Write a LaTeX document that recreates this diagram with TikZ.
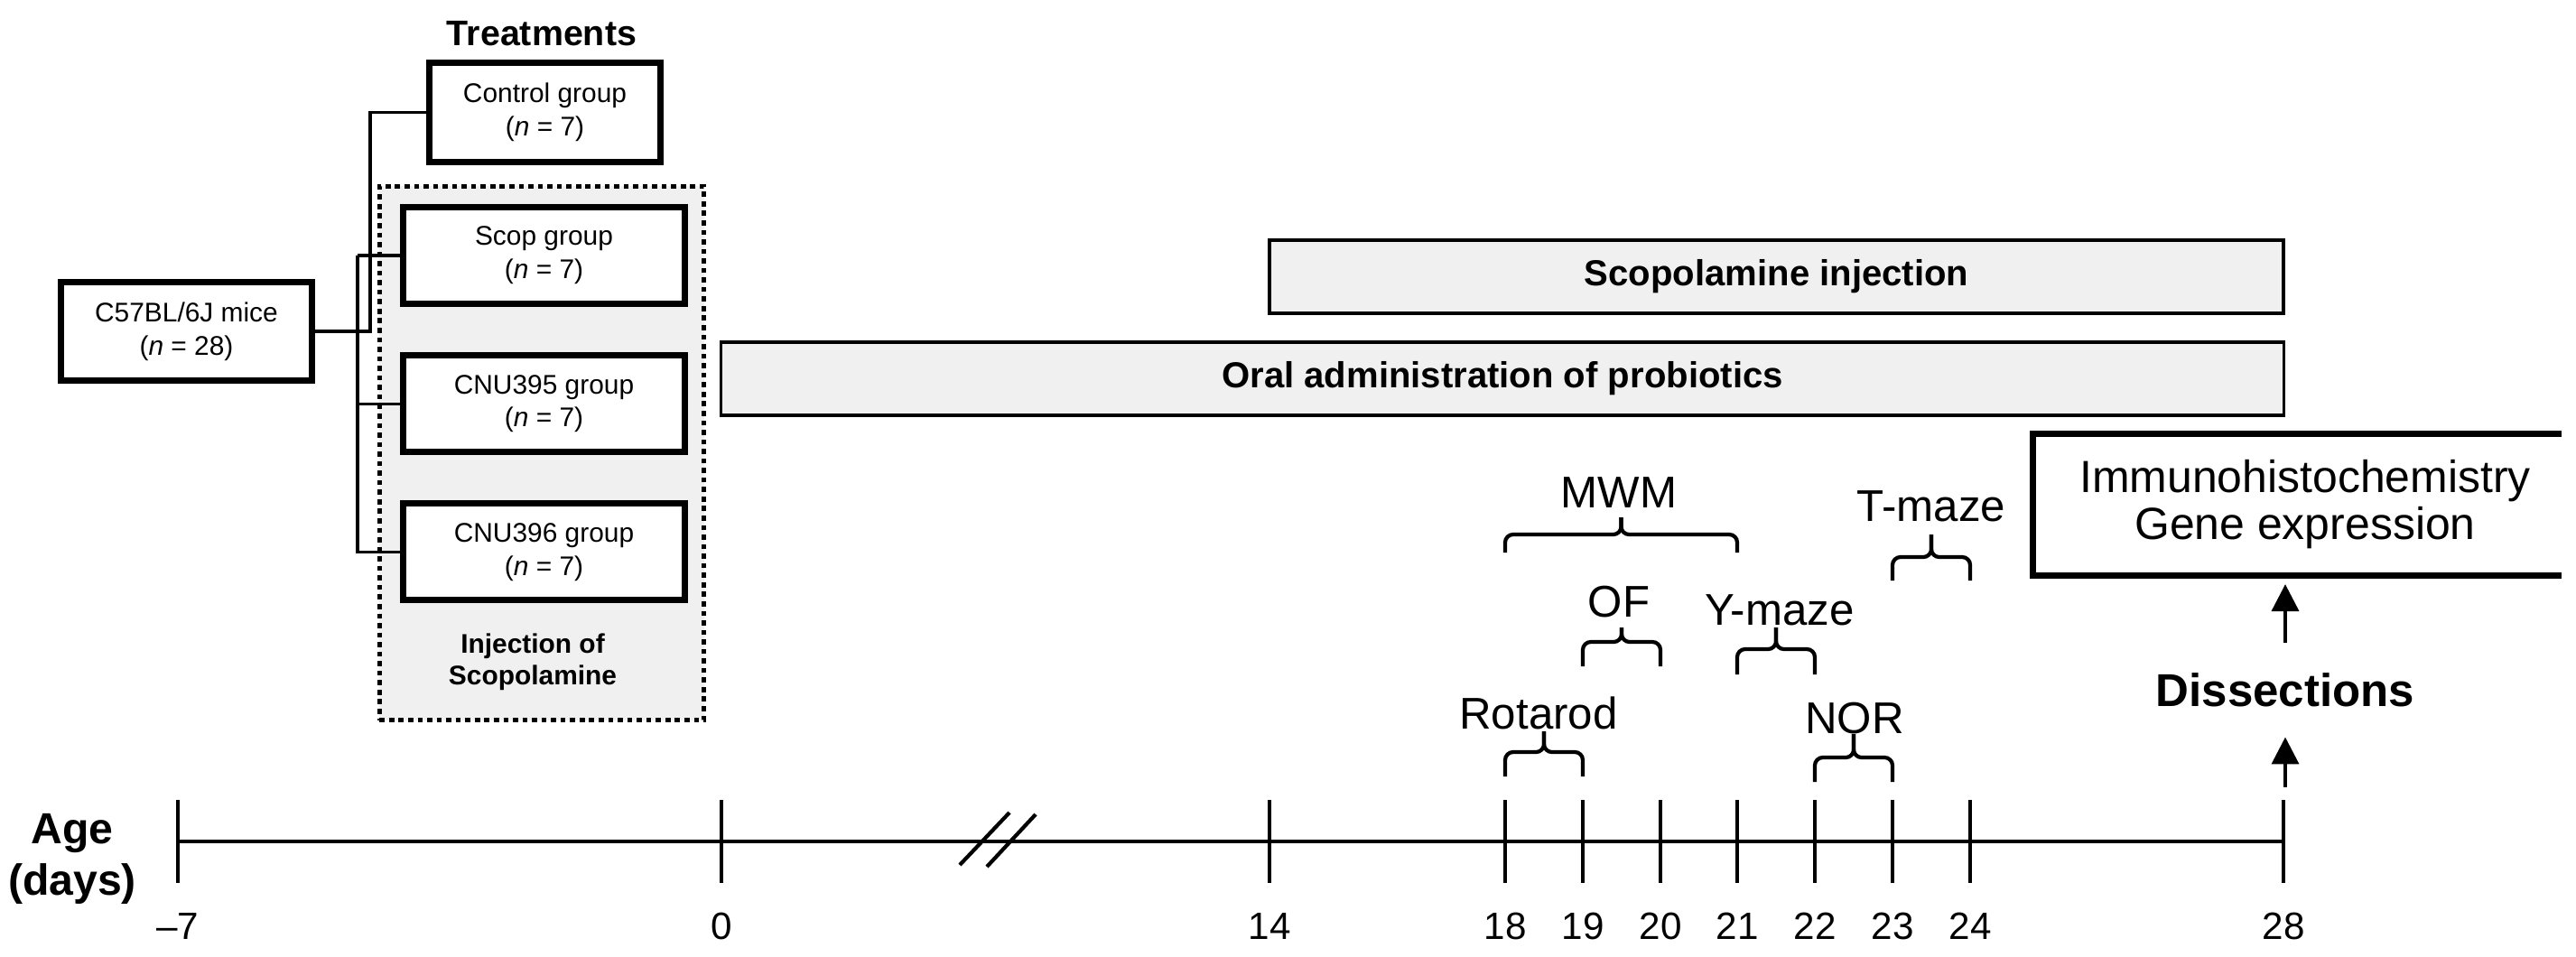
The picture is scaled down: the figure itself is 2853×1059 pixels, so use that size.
\documentclass[tikz,border=0pt]{standalone}
\usepackage{fontspec}
\setmainfont{Liberation Sans}
\usepackage{tikz}
\usetikzlibrary{arrows.meta, positioning, calc}
\tikzstyle{arrow} = [line width=1.1pt, -{Triangle[width=8.5pt,length=8.5pt]}, black]
\tikzstyle{link} = [line width=0.9pt, black]
\tikzstyle{groupbox} = [rectangle, draw=black, line width=2pt, fill=white, align=center,
                        inner sep=0pt, font=\fontsize{8.5}{10.5}\selectfont]
\tikzstyle{injbox} = [rectangle, draw=black, line width=1.5pt, dash pattern=on 1.6pt off 1.4pt, fill=black!6]
\tikzstyle{period} = [rectangle, draw=black, line width=1.1pt, fill=black!6, minimum height=0.81cm,
                      font=\bfseries\fontsize{11.4}{13}\selectfont]
\tikzstyle{testlabel} = [anchor=base, inner sep=0pt, font=\fontsize{14}{16}\selectfont]
\tikzstyle{daylabel} = [anchor=base, inner sep=0pt, font=\fontsize{12}{14}\selectfont]
\tikzstyle{testbrc} = [line width=1.2pt, rounded corners=2.5pt]
\tikzstyle{axisline} = [line width=1.2pt]

% brace over the days of one test: x1, x2, y legs, y bar, y tip
\newcommand{\testbrace}[5]{%
  \draw[testbrc] (#1,#3) -- (#1,#4) -- ({(#1+#2)/2},#4) -- ({(#1+#2)/2},#5);
  \draw[testbrc] (#2,#3) -- (#2,#4) -- ({(#1+#2)/2},#4) -- ({(#1+#2)/2},#5);}

\begin{document}
\begin{tikzpicture}[x=0.01cm, y=0.01cm, node distance=0.5cm]
    \useasboundingbox (0,0) rectangle (2853,-1059);

    % Treatment groups
    \node[injbox, minimum width=3.59cm, minimum height=5.91cm] (inj) at (600,-502) {};
    \node[align=center, font=\bfseries\fontsize{8.5}{10}\selectfont] (injlbl) at (590,-733) {Injection of\\Scopolamine};
    \node[font=\bfseries\fontsize{11.2}{13}\selectfont] (treat) at (600,-37) {Treatments};
    \node[groupbox, minimum width=2.56cm, minimum height=1.10cm] (ctrl) at (603.5,-124.5) {Control group\\(\textit{n} = 7)};
    \node[groupbox, minimum width=3.12cm, minimum height=1.07cm] (scop) at (602.5,-283) {Scop group\\(\textit{n} = 7)};
    \node[groupbox, minimum width=3.12cm, minimum height=1.07cm, below=of scop] (cnu5) {CNU395 group\\(\textit{n} = 7)};
    \node[groupbox, minimum width=3.12cm, minimum height=1.07cm, below=of cnu5] (cnu6) {CNU396 group\\(\textit{n} = 7)};
    \node[groupbox, minimum width=2.78cm, minimum height=1.09cm] (mice) at (206.5,-367) {C57BL/6J mice\\(\textit{n} = 28)};

    % Branches
    \coordinate (trunk1) at (410,-367);
    \coordinate (trunk2) at (396,-367);
    \draw[link] (mice.east) -- (trunk1) |- (ctrl.west);
    \draw[link] (trunk2 |- scop.west) -- (scop.west);
    \draw[link] (trunk2 |- scop.west) |- (cnu6.west);
    \draw[link] (trunk2 |- cnu5.west) -- (cnu5.west);

    % Treatment periods
    \node[period, minimum width=11.23cm] (scopinj) at (1967.5,-306.5) {Scopolamine injection};
    \node[period, minimum width=17.30cm] (oral) at (1664,-419.5) {Oral administration of probiotics};

    % Time axis
    \foreach \d/\x/\lbl in {-7/197/\textendash7, 0/799/0, 14/1406/14, 18/1667/18, 19/1753/19, 20/1839/20,
                            21/1924/21, 22/2010/22, 23/2096/23, 24/2182/24, 28/2529/28} {
        \coordinate (t\d) at (\x,-932);
        \draw[axisline] (\x,-886) -- (\x,-978);
        \node[daylabel] (l\d) at (\x,-1040) {\lbl};
    }
    \draw[axisline] (t-7) -- (t28);
    \draw[axisline] (1063,-958) -- (1118,-900);
    \draw[axisline] (1093,-960) -- (1147,-902);
    \node[align=center, font=\bfseries\fontsize{13.7}{16.2}\selectfont] (age) at (80,-951) {Age\\(days)};

    % Behavioural tests
    \testbrace{1667}{1924}{-612}{-592}{-573}
    \node[testlabel] (mwm) at (1793,-562) {MWM};
    \testbrace{2096}{2182}{-643}{-617}{-592}
    \node[testlabel] (tmaze) at (2139,-577) {T-maze};
    \testbrace{1753}{1839}{-738}{-711}{-695}
    \node[testlabel] (of) at (1793,-683) {OF};
    \testbrace{1924}{2010}{-747}{-719}{-695}
    \node[testlabel] (ymaze) at (1971,-692) {Y-maze};
    \testbrace{1667}{1753}{-860}{-833}{-810}
    \node[testlabel] (rota) at (1704,-807) {Rotarod};
    \testbrace{2010}{2096}{-866}{-839}{-813}
    \node[testlabel] (nor) at (2054,-812) {NOR};

    % Dissections
    \node[minimum width=6.01cm, minimum height=1.55cm, align=center, font=\fontsize{14.2}{14.8}\selectfont] (ihc) at (2553,-559) {Immunohistochemistry\\Gene expression};
    \draw[line width=2pt] ([xshift=-0.17cm]ihc.north east) -- (ihc.north west) -- (ihc.south west) -- ([xshift=-0.17cm]ihc.south east);
    \node[inner sep=9.4pt, font=\bfseries\fontsize{14.5}{17}\selectfont] (diss) at (2531,-764) {Dissections};
    \coordinate (cut) at (2531,-872);
    \draw[arrow] (cut) -- (diss.south);
    \draw[arrow, shorten >=2.8pt] (diss.north) -- (diss.north |- ihc.south);
\end{tikzpicture}
\end{document}
